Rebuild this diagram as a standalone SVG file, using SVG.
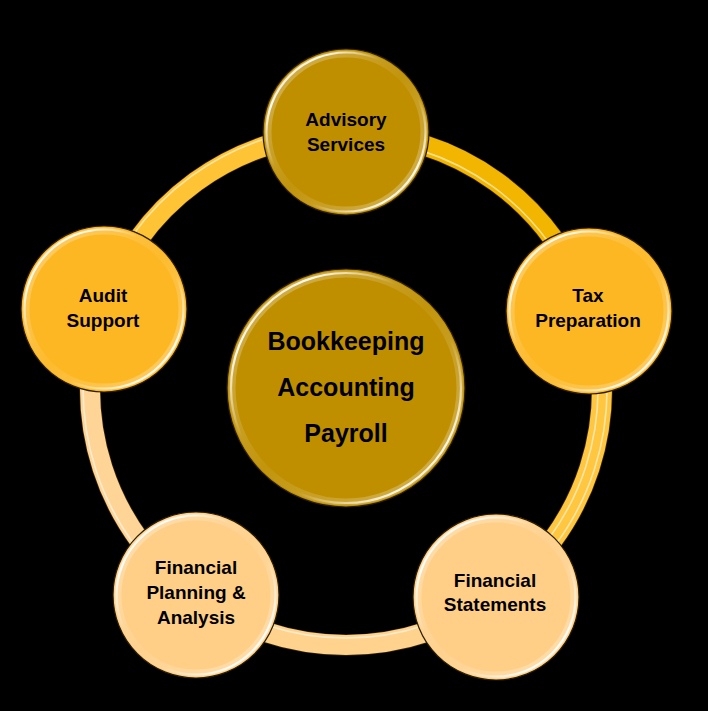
<svg xmlns="http://www.w3.org/2000/svg" width="708" height="711" viewBox="0 0 708 711">
<defs>
<linearGradient id="bevel" x1="0" y1="0" x2="1" y2="1">
<stop offset="0" stop-color="#fff" stop-opacity="0.2"/>
<stop offset="0.18" stop-color="#fff" stop-opacity="0.95"/>
<stop offset="0.38" stop-color="#fff" stop-opacity="0"/>
<stop offset="0.62" stop-color="#fff" stop-opacity="0"/>
<stop offset="0.84" stop-color="#fff" stop-opacity="0.9"/>
<stop offset="1" stop-color="#fff" stop-opacity="0.2"/>
</linearGradient>
<linearGradient id="rim" x1="0" y1="0" x2="1" y2="1">
<stop offset="0" stop-color="#fff" stop-opacity="0.35"/>
<stop offset="0.5" stop-color="#fff" stop-opacity="0.05"/>
<stop offset="1" stop-color="#fff" stop-opacity="0.35"/>
</linearGradient>
</defs>
<style>
.bg{fill:#000}
.edge{stroke:#2a1e00;stroke-width:1.2}
.dark{fill:#BF8F00}
.mid{fill:#FDB722}
.light{fill:#FFCF88}
.rim{fill:none;stroke:url(#rim);stroke-width:7}
.bev{fill:none;stroke:url(#bevel);stroke-width:2.2}
.t{font-family:"Liberation Sans",Arial,sans-serif;font-weight:bold;font-size:19px;fill:#000;text-anchor:middle}
.tc{font-size:25px}
.arc{fill:none;stroke-width:20}
.arcedge{fill:none;stroke-width:21.5;stroke:#3a2a00}
.hl{fill:none;stroke:#fff;stroke-width:1.6;stroke-opacity:0.55}
</style>
<rect class="bg" x="0" y="0" width="708" height="711"/>
<g id="connectors">
<path class="arcedge" d="M346 133 A256 256 0 0 1 589.5 309.9"/>
<path class="arc" stroke="#F2B600" d="M346 133 A256 256 0 0 1 589.5 309.9"/>
<path class="hl" stroke-opacity="0.25" d="M346 139 A250 250 0 0 1 583.8 311.7"/>
<path class="arcedge" d="M589.5 309.9 A256 256 0 0 1 496.5 596.1"/>
<path class="arc" stroke="#FFC640" d="M589.5 309.9 A256 256 0 0 1 496.5 596.1"/>
<path class="hl" stroke-opacity="0.9" stroke-width="2" d="M594.3 308.4 A261 261 0 0 1 499.4 600.2"/>
<path class="hl" stroke-opacity="0.9" stroke-width="2" d="M585.7 311.1 A252 252 0 0 1 494.1 592.9"/>
<path class="arcedge" d="M496.5 596.1 A256 256 0 0 1 195.5 596.1"/>
<path class="arc" stroke="#FFD38E" d="M496.5 596.1 A256 256 0 0 1 195.5 596.1"/>
<path class="hl" stroke-opacity="0.3" d="M492.4 590.4 A249 249 0 0 1 199.6 590.4"/>
<path class="arcedge" d="M195.5 596.1 A256 256 0 0 1 102.5 309.9"/>
<path class="arc" stroke="#FFD597" d="M195.5 596.1 A256 256 0 0 1 102.5 309.9"/>
<path class="hl" stroke-opacity="0.6" d="M189.7 600.3 A263 263 0 0 1 95.9 307.7"/>
<path class="arcedge" d="M102.5 309.9 A256 256 0 0 1 346 133"/>
<path class="arc" stroke="#FFC436" d="M102.5 309.9 A256 256 0 0 1 346 133"/>
<path class="hl" stroke-opacity="0.55" d="M95.9 307.7 A263 263 0 0 1 346 126"/>
</g>
<g id="center">
<circle class="dark edge" cx="346" cy="388" r="119"/>
<circle class="rim" cx="346" cy="388" r="114"/>
<circle class="bev" cx="346" cy="388" r="115"/>
<text class="t tc" x="346" y="350">Bookkeeping</text>
<text class="t tc" x="346" y="396">Accounting</text>
<text class="t tc" x="346" y="442">Payroll</text>
</g>
<g id="advisory">
<circle class="dark edge" cx="346" cy="132" r="83"/>
<circle class="rim" cx="346" cy="132" r="78"/>
<circle class="bev" cx="346" cy="132" r="79.5"/>
<text class="t" x="346" y="126">Advisory</text>
<text class="t" x="346" y="151">Services</text>
</g>
<g id="tax">
<circle class="mid edge" cx="589" cy="311" r="83"/>
<circle class="rim" cx="589" cy="311" r="78"/>
<circle class="bev" cx="589" cy="311" r="79.5"/>
<text class="t" x="588" y="302">Tax</text>
<text class="t" x="588" y="327">Preparation</text>
</g>
<g id="statements">
<circle class="light edge" cx="496" cy="597" r="83"/>
<circle class="rim" cx="496" cy="597" r="78"/>
<circle class="bev" cx="496" cy="597" r="79.5"/>
<text class="t" x="495" y="587">Financial</text>
<text class="t" x="495" y="611">Statements</text>
</g>
<g id="planning">
<circle class="light edge" cx="196" cy="595" r="83"/>
<circle class="rim" cx="196" cy="595" r="78"/>
<circle class="bev" cx="196" cy="595" r="79.5"/>
<text class="t" x="196" y="574">Financial</text>
<text class="t" x="196" y="599">Planning &amp;</text>
<text class="t" x="196" y="624">Analysis</text>
</g>
<g id="audit">
<circle class="mid edge" cx="104" cy="309" r="83"/>
<circle class="rim" cx="104" cy="309" r="78"/>
<circle class="bev" cx="104" cy="309" r="79.5"/>
<text class="t" x="103" y="302">Audit</text>
<text class="t" x="103" y="327">Support</text>
</g>
</svg>
